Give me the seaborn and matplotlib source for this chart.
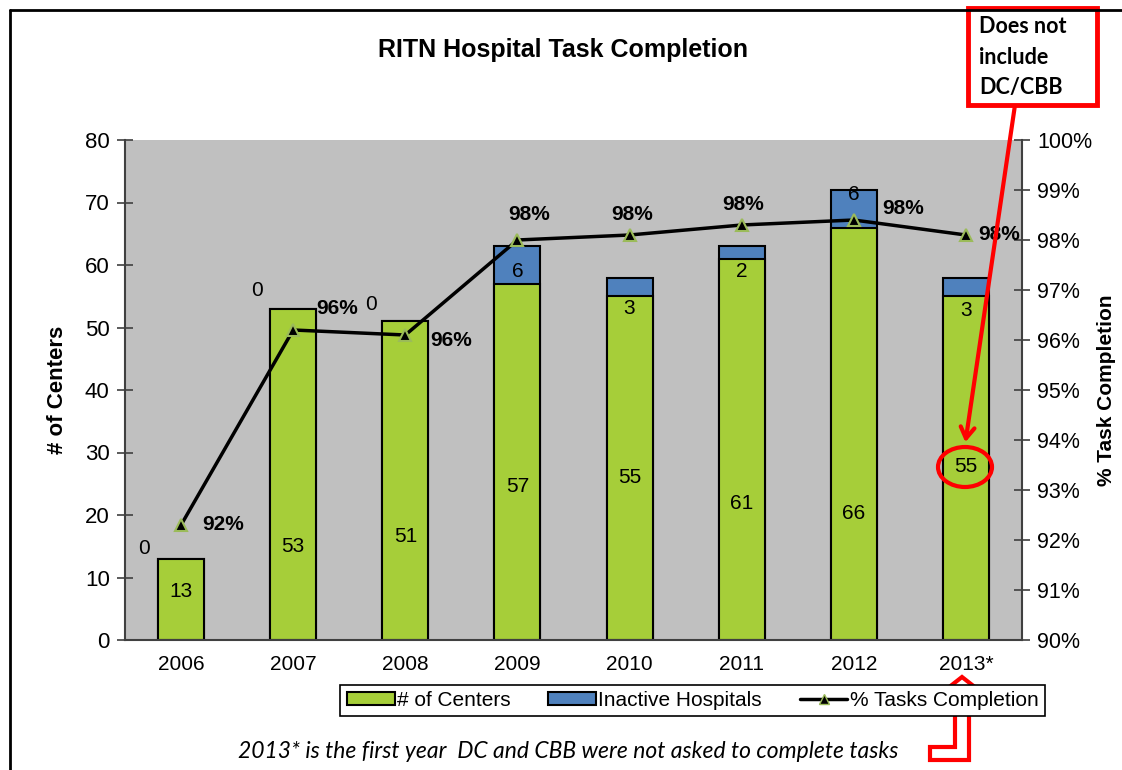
import numpy as np
import matplotlib
matplotlib.use("Agg")
import matplotlib.pyplot as plt
import seaborn as sns
from matplotlib.patches import Rectangle, Ellipse, Polygon, FancyArrowPatch
from matplotlib.lines import Line2D
from matplotlib.patches import Patch
from matplotlib.ticker import FuncFormatter, MultipleLocator

# data
years = ["2006", "2007", "2008", "2009", "2010", "2011", "2012", "2013*"]
centers = [13, 53, 51, 57, 55, 61, 66, 55]
inactive = [0, 0, 0, 6, 3, 2, 6, 3]
pct_complete = [92.3, 96.2, 96.1, 98.0, 98.1, 98.3, 98.4, 98.1]

# label placement (layout only)
center_label_y = [7.7, 15, 16.5, 24.5, 26, 21.8, 20.3, 27.7]
inactive_label_y = [14.6, 56, 53.6, 58.9, 53, 58.9, 71.2, 52.8]
inactive_label_dx = [-37, -36, -34, 0, 0, 0, 0, 0]
pct_label_off = [(42, 0), (44, 21), (46, -6), (12, 25), (3, 21), (1, 21), (49, 12), (33, 0)]

GREEN = "#A6CE39"
BLUE = "#4F81BD"
GRAY = "#C0C0C0"

sns.set_style("white")
plt.rcParams["font.family"] = ["Liberation Sans", "DejaVu Sans"]
plt.rcParams.update({"text.color": "black", "axes.labelcolor": "black",
                     "xtick.color": "black", "ytick.color": "black"})

W, H = 1122, 770
fig = plt.figure(figsize=(W / 100, H / 100), dpi=100)


def px(x, y):
    return (x / W, 1 - y / H)


ax = fig.add_axes([125 / W, 1 - 640 / H, (1022 - 125) / W, 500 / H])
ax.set_facecolor(GRAY)

totals = [c + i for c, i in zip(centers, inactive)]
xs = np.arange(len(years))
sns.barplot(x=xs, y=totals, color=BLUE, saturation=1, width=0.41,
            edgecolor="black", linewidth=1.5, ax=ax)
sns.barplot(x=xs, y=centers, color=GREEN, saturation=1, width=0.41,
            edgecolor="black", linewidth=1.5, ax=ax)

ax.set_xlim(-0.5, len(years) - 0.5)
ax.set_ylim(0, 80)
ax.yaxis.set_major_locator(MultipleLocator(10))
ax.set_xticks(xs)
ax.set_xticklabels(years, fontsize=15)
ax.set_xticks(np.arange(0.5, len(years) - 1, 1), minor=True)
ax.tick_params(axis="x", which="major", length=0, pad=11)
ax.tick_params(axis="x", which="minor", length=12, direction="inout", width=1.2, color="#404040")
ax.tick_params(axis="y", labelsize=16, length=12, direction="inout", width=1.2, color="#404040", pad=5)
ax.set_ylabel("# of Centers", fontsize=16, fontweight="bold", labelpad=12)
ax.set_xlabel("")
for s in ["left", "bottom", "right"]:
    ax.spines[s].set_color("#404040")
    ax.spines[s].set_linewidth(1.5)
ax.spines["top"].set_visible(False)

for i in range(len(years)):
    ax.text(i, center_label_y[i], str(centers[i]), ha="center", va="center", fontsize=15)
    ax.annotate(str(inactive[i]), (i, inactive_label_y[i]), xytext=(inactive_label_dx[i], 0),
                textcoords="offset pixels", ha="center", va="center", fontsize=15)

ax2 = ax.twinx()
sns.lineplot(x=xs, y=pct_complete, ax=ax2, color="black", linewidth=2.5,
             marker="^", markersize=9, markerfacecolor="black",
             markeredgecolor="#9BBB59", markeredgewidth=1.5)
ax2.set_ylim(90, 100)
ax2.yaxis.set_major_locator(MultipleLocator(1))
ax2.yaxis.set_major_formatter(FuncFormatter(lambda v, p: f"{v:.0f}%"))
ax2.tick_params(axis="y", labelsize=15.5, length=12, direction="inout", width=1.2, color="#404040", pad=5)
ax2.set_ylabel("% Task Completion", fontsize=15, fontweight="bold", labelpad=3)
for s in ax2.spines.values():
    s.set_visible(False)
for i, v in enumerate(pct_complete):
    ax2.annotate(f"{v:.0f}%", (i, v), xytext=pct_label_off[i], textcoords="offset pixels",
                 ha="center", va="center", fontsize=15, fontweight="bold")

fig.text(*px(563, 50), "RITN Hospital Task Completion", ha="center", va="center",
         fontsize=18, fontweight="bold")

handles = [Patch(facecolor=GREEN, edgecolor="black", linewidth=1.5, label="# of Centers"),
           Patch(facecolor=BLUE, edgecolor="black", linewidth=1.5, label="Inactive Hospitals"),
           Line2D([0], [0], color="black", linewidth=2.5, marker="^", markersize=7,
                  markerfacecolor="black", markeredgecolor="#9BBB59", label="% Tasks Completion")]
leg = fig.legend(handles=handles, loc="center", ncol=3, fontsize=15,
                 bbox_to_anchor=(330 / W, 1 - 718 / H, 725 / W, 35 / H), mode="expand",
                 frameon=True, fancybox=False, edgecolor="black", framealpha=1,
                 handlelength=2.3, handleheight=0.6, handletextpad=0.1, borderpad=0.3)
leg.get_frame().set_linewidth(1.2)

fig.text(*px(568, 752), "2013* is the first year  DC and CBB were not asked to complete tasks",
         ha="center", va="center", fontsize=16.5, style="italic", family=["Lato", "DejaVu Sans"])

# outer frame
fig.add_artist(Line2D([px(10, 0)[0], 1], [px(0, 10)[1]] * 2, color="black", linewidth=2))
fig.add_artist(Line2D([px(10, 0)[0]] * 2, [px(0, 10)[1], 0], color="black", linewidth=2))

# callout box
fig.add_artist(Rectangle(px(968, 105), 129 / W, 97 / H, transform=fig.transFigure,
                         facecolor="white", edgecolor="red", linewidth=3.5))
fig.text(*px(979, 57), "Does not\ninclude\nDC/CBB", ha="left", va="center", fontsize=15.5,
         fontweight="bold", linespacing=1.55, family=["Lato", "DejaVu Sans"])
fig.add_artist(FancyArrowPatch(px(1015, 105), px(965, 445), transform=fig.transFigure,
                               arrowstyle="->,head_length=8,head_width=5", color="red", linewidth=3))
fig.add_artist(Ellipse(px(965, 467), 54 / W, 40 / H, transform=fig.transFigure,
                       facecolor="none", edgecolor="red", linewidth=3))
pts = [(930, 747), (955, 747), (955, 688), (948, 688), (962, 677), (976, 688),
       (969, 688), (969, 760), (930, 760)]
fig.add_artist(Polygon([px(x, y) for x, y in pts], closed=True, transform=fig.transFigure,
                       facecolor="white", edgecolor="red", linewidth=3))

fig.savefig("out.png", dpi=100, facecolor="white")
